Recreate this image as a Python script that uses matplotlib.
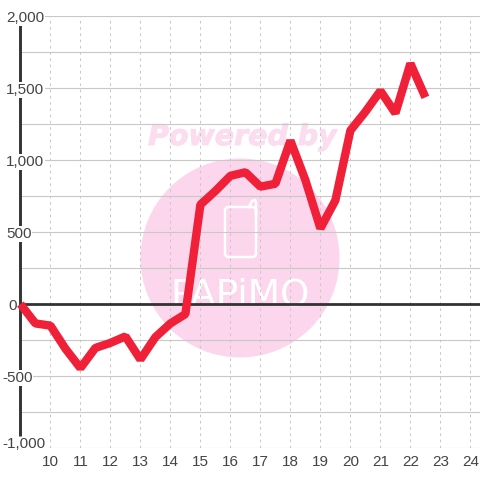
import matplotlib
matplotlib.use("Agg")
import matplotlib.pyplot as plt
import matplotlib.patheffects as pe
from matplotlib.patches import Circle, FancyBboxPatch
from matplotlib.transforms import blended_transform_factory, IdentityTransform, ScaledTranslation

hours = [9 + 0.5 * i for i in range(28)]
values = [0, -135, -150, -310, -445, -305, -270, -225, -385, -230, -135, -70,
          690, 785, 890, 915, 815, 835, 1135, 860, 525, 720, 1205, 1335,
          1480, 1325, 1670, 1435]
x_ticks = list(range(10, 25))
y_ticks = [-1000, -500, 0, 500, 1000, 1500, 2000]
y_grid = list(range(-1000, 2001, 250))
y_labels = ['-1,000', '-500', '0', '500', '1,000', '1,500', '2,000']

W, H = 480, 480
L, R, T, B = 20.4, 480, 16, 448
fig = plt.figure(figsize=(4.8, 4.8), dpi=100, facecolor='white')

# Watermark, in pixel coordinates below the axes
bg = fig.add_axes([0, 0, 1, 1], zorder=0)
bg.set_xlim(0, W); bg.set_ylim(H, 0); bg.axis('off')
bg.add_patch(Circle((240, 258), 99.5, fc='#fcd6ec', ec='none'))
bg.add_patch(FancyBboxPatch((225, 207), 31, 50, boxstyle='round,pad=0,rounding_size=4',
                            fc='none', ec='white', lw=1.8))
bg.plot([249, 252, 255, 256, 256], [207, 201, 200, 202, 216], color='white', lw=1.8)
t = bg.text(242.5, 145, 'Powered by', fontsize=20.5, fontweight='bold', style='italic',
            color='#fcdcef', ha='center', va='baseline', family='DejaVu Sans')
t.set_path_effects([pe.withStroke(linewidth=0.7, foreground='#fcdcef')])
bg.text(240, 306, 'PAPiMO', fontsize=27, color='white', ha='center', va='baseline',
        family='Liberation Sans Narrow')

ax = fig.add_axes([L / W, 1 - B / H, (R - L) / W, (B - T) / H], zorder=1)
ax.patch.set_alpha(0)
ax.set_xlim(9, 9 + (R - L) / 30)
ax.set_ylim(-1000, 2000)
for s in ax.spines.values():
    s.set_visible(False)
ax.set_xticks(x_ticks)
ax.set_xticklabels([str(t) for t in x_ticks])
ax.set_yticks(y_grid)
ax.set_yticklabels([])
ax.tick_params(length=0)
ax.tick_params(axis='x', labelsize=11, labelcolor='#444444', pad=5)
for lab in ax.get_xticklabels():
    lab.set_family('Liberation Sans')
ax.grid(axis='y', color='#c8c8c8', lw=0.8, zorder=1)
ax.grid(axis='x', color='#c8c8c8', lw=0.75, ls=(0, (2.5, 3.5)), zorder=1)
ax.set_axisbelow(True)

ax.axhline(0, color='#333333', lw=2.0, zorder=2)
ax.plot([9, 9], [-917, 1944], color='#333333', lw=2.1, zorder=2, solid_capstyle='butt', clip_on=False)
ax.plot(hours, values, color='#f02038', lw=6.0, zorder=3, solid_joinstyle='bevel',
        solid_capstyle='butt', clip_on=False)

trans = blended_transform_factory(IdentityTransform(), ax.transData)
shift = ScaledTranslation(0, -1.5 / 72, fig.dpi_scale_trans)
for v, s in zip(y_ticks, y_labels):
    yv = {-1000: -960, 2000: 2000}.get(v, v)
    xpx = 2 if v < 0 else (8 if v == 0 else 6)
    ax.text(xpx, yv, s, transform=trans + shift, fontsize=11, color='#444444', ha='left', va='center',
            family='Liberation Sans', zorder=2.5, clip_on=False,
            bbox=dict(fc='white', ec='none', pad=0.5))

fig.savefig('out.png', dpi=100)
